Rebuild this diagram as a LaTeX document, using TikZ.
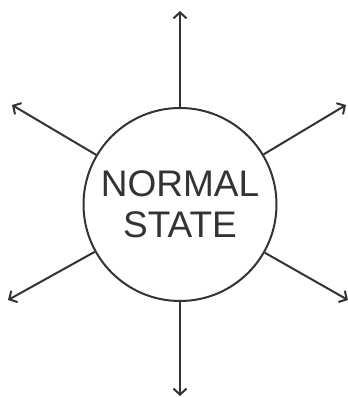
\documentclass[tikz,border=0pt]{standalone}
\usepackage{fontspec}
\setmainfont{Liberation Sans}
\usetikzlibrary{arrows.meta}
\definecolor{ink}{HTML}{333333}
\begin{document}
\begin{tikzpicture}[x=1pt,y=-1pt,
  state/.style={circle,draw=ink,line width=2pt,minimum size=193pt,inner sep=0pt,
    text=ink,align=center,font=\fontsize{37}{41}\selectfont},
  ray/.style={draw=ink,line width=2pt,-{Straight Barb[length=6pt,width=13pt,line width=2pt]}}]
\useasboundingbox (0,0) rectangle (348,397);
\node[state] (c) at (180,204.5) {NORMAL\\STATE};
\coordinate (n) at (180,11);
\coordinate (s) at (180,396);
\coordinate (nw) at (12,105);
\coordinate (ne) at (346,105);
\coordinate (sw) at (8,300);
\coordinate (se) at (348,300);
\foreach \t in {n,s,nw,ne,sw,se} \draw[ray] (c) -- (\t);
\end{tikzpicture}
\end{document}
